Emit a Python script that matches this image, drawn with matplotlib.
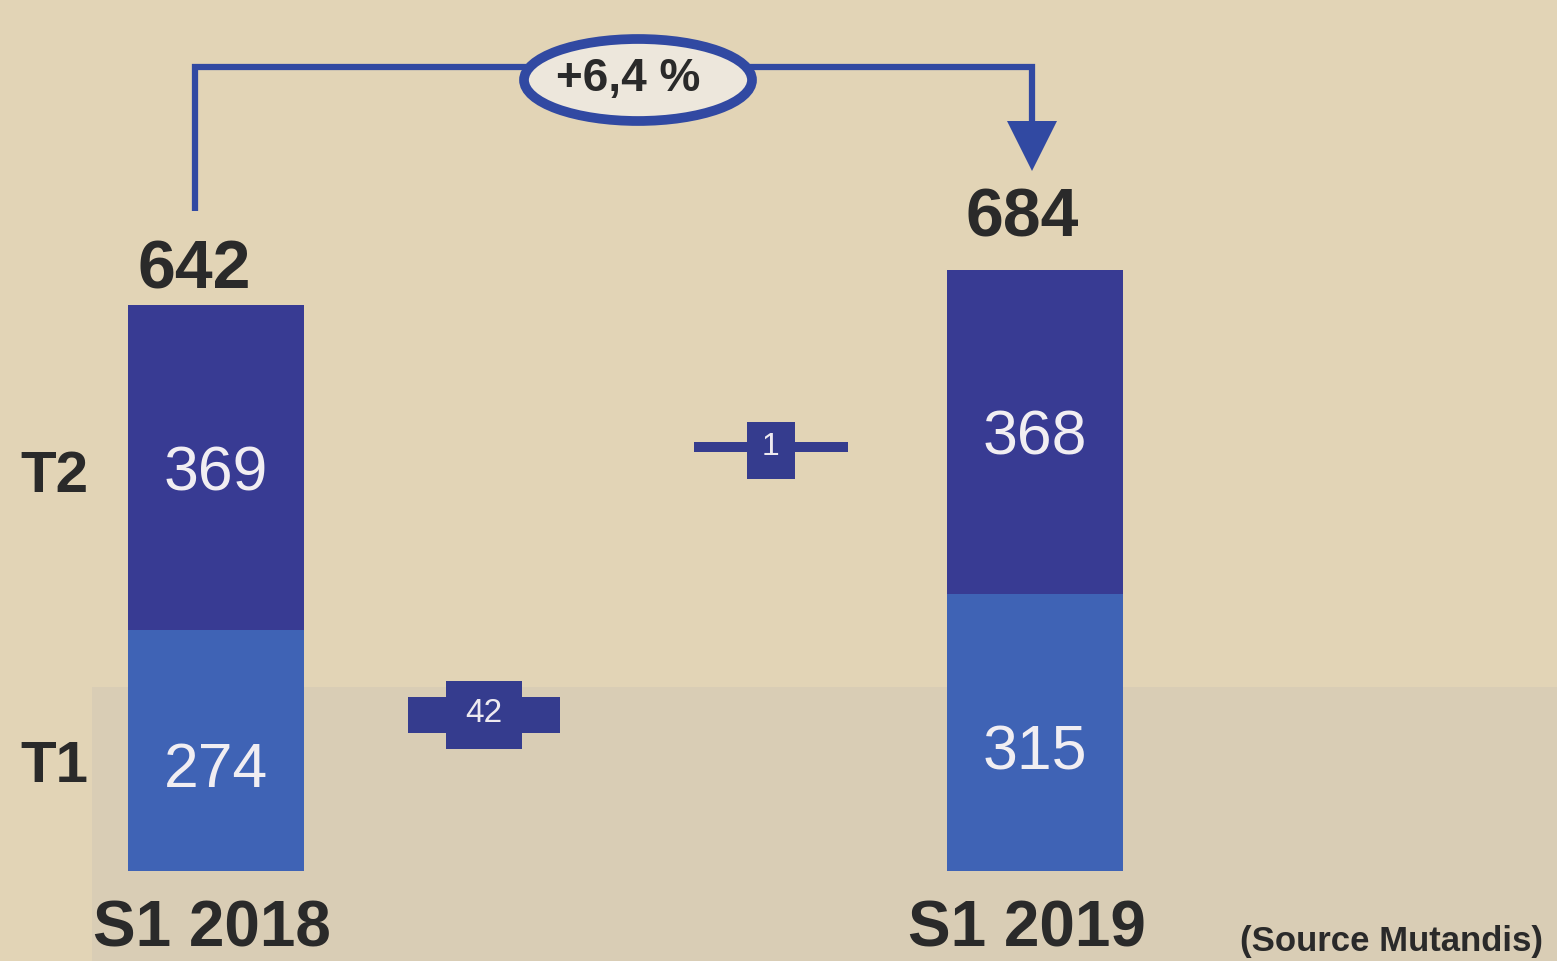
"""
Rebuild of the Mutandis S1 2018 -> S1 2019 bridge chart (T1 / T2 split).
Writes out.png.
"""

import matplotlib
matplotlib.use("Agg")
import matplotlib.pyplot as plt
from matplotlib.patches import Rectangle, Ellipse, Polygon

# data
periods = ["S1 2018", "S1 2019"]
quarters = ["T1", "T2"]
t1 = [274, 315]
t2 = [369, 368]
totals = [642, 684]
deltas = [42, 1]          # change T1, change T2
growth = "+6,4 %"
source = "(Source Mutandis)"

# look
BG = "#e2d4b6"
BG_LOW = "#d9cdb5"         # greyer lower band of the scan
DARK = "#383b93"
LIGHT = "#3f63b5"
MARK = "#353c8e"
LINE = "#3149a2"
INK = "#2a2a2a"
FONT = ["Liberation Sans", "DejaVu Sans"]

W, H = 1557, 962
PXU = 0.88                 # pixels per unit of value
Y0 = 872                   # pixel row of value 0


def ypx(py):
    """pixel row -> value axis (for annotation placement only)"""
    return (Y0 - py) / PXU


bar_x = [216, 1035]
bar_w = 176
delta_x = [484, 771]
delta_y = [ypx(716), ypx(448)]

fig = plt.figure(figsize=(W / 100, H / 100), dpi=100)
fig.patch.set_facecolor(BG)
ax = fig.add_axes([0, 0, 1, 1])
ax.set_facecolor(BG)
ax.set_xlim(0, W)
ax.set_ylim(ypx(H), ypx(0))
ax.axis("off")

ax.add_patch(Rectangle((92, ypx(H)), W - 92, ypx(688) - ypx(H),
                       color=BG_LOW, lw=0, zorder=0))

# stacked bars
ax.bar(bar_x, t1, width=bar_w, color=LIGHT, linewidth=0, zorder=2)
ax.bar(bar_x, t2, bottom=t1, width=bar_w, color=DARK, linewidth=0, zorder=2)
for x, a, b in zip(bar_x, t1, t2):
    ax.text(x, a / 2 - 22, str(a), ha="center", va="center", color="#f1eef2",
            fontsize=45, family=FONT, zorder=3)
    ax.text(x, a + b / 2 - 6, str(b), ha="center", va="center", color="#f1eef2",
            fontsize=45, family=FONT, zorder=3)

# totals above bars
ax.text(bar_x[0] - 22, t1[0] + t2[0] + 40, str(totals[0]), ha="center",
        va="center", color=INK, fontsize=49, fontweight="bold", family=FONT)
ax.text(bar_x[1] - 13, t1[1] + t2[1] + 60, str(totals[1]), ha="center",
        va="center", color=INK, fontsize=49, fontweight="bold", family=FONT)

# quarter labels on the left, aligned on the 2018 segments
ax.text(54, t1[0] / 2 - 18, quarters[0], ha="center", va="center", color=INK,
        fontsize=42, fontweight="bold", family=FONT, zorder=3)
ax.text(54, t1[0] + t2[0] / 2 - 10, quarters[1], ha="center", va="center",
        color=INK, fontsize=42, fontweight="bold", family=FONT, zorder=3)

# delta markers
# T1: wide thin bar with taller box
cx, cy = delta_x[0], delta_y[0]
ax.add_patch(Rectangle((cx - 76, cy - 20), 152, 40, color=MARK, lw=0, zorder=2))
ax.add_patch(Rectangle((cx - 38, cy - 39), 76, 78, color=MARK, lw=0, zorder=2))
ax.text(cx, cy + 3, str(deltas[0]), ha="center", va="center", color="#eeeaf0",
        fontsize=24, family=FONT, zorder=3)
# T2: thin line with small box
cx, cy = delta_x[1], delta_y[1]
ax.add_patch(Rectangle((cx - 77, cy - 6), 154, 12, color=MARK, lw=0, zorder=2))
ax.add_patch(Rectangle((cx - 24, cy - 36), 48, 64, color=MARK, lw=0, zorder=2))
ax.text(cx, cy + 1, str(deltas[1]), ha="center", va="center", color="#eeeaf0",
        fontsize=23, family=FONT, zorder=3)

# growth arrow
ax.plot([195, 195, 1032, 1032], [ypx(212), ypx(68), ypx(68), ypx(128)],
        color=LINE, lw=4.5, solid_joinstyle="miter", solid_capstyle="butt")
ax.add_patch(Polygon([(1007, ypx(122)), (1057, ypx(122)), (1032, ypx(172))],
                     closed=True, color=LINE, lw=0))
ax.add_patch(Ellipse((638, ypx(81)), 228, 82 / PXU, facecolor="#ede7dc",
                     edgecolor=LINE, lw=7, zorder=3))
ax.text(628, ypx(79), growth, ha="center", va="center", color=INK,
        fontsize=33, fontweight="bold", family=FONT, zorder=4)

# period labels and source
for x, p in zip([212, 1027], periods):
    ax.text(x, ypx(930), p, ha="center", va="center", color=INK, fontsize=46,
            fontweight="bold", family=FONT, zorder=3)
ax.text(1543, ypx(942), source, ha="right", va="center", color=INK,
        fontsize=25, fontweight="bold", family=FONT, zorder=3)

fig.savefig("out.png", dpi=100, facecolor=BG)
plt.close(fig)
